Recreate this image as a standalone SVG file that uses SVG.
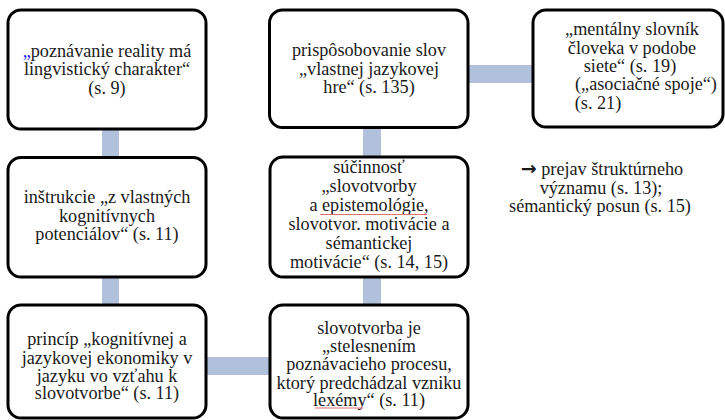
<svg xmlns="http://www.w3.org/2000/svg" width="725" height="420" viewBox="0 0 725 420">
<style>
.box{fill:#fff;stroke:#000;stroke-width:3}
text{font-family:'Liberation Serif',serif;font-size:18.2px;fill:#1a1a1a;text-anchor:middle}
.c{fill:#b1c1db}
.sq{fill:none;stroke:#e07070;stroke-width:1}
</style>
<rect width="725" height="420" fill="#fff"/>
<g id="connectors">
<rect class="c" x="102" y="128" width="17" height="31"/>
<rect class="c" x="102" y="275" width="17" height="32"/>
<rect class="c" x="363" y="126" width="18" height="33"/>
<rect class="c" x="363" y="275" width="18" height="32"/>
<rect class="c" x="205" y="357" width="67" height="18"/>
<rect class="c" x="466" y="65" width="69" height="18"/>
</g>
<g id="n1">
<rect class="box" x="8" y="10" width="198" height="119" rx="13"/>
<text font-family="Liberation Serif, serif"><tspan x="107" y="57"><tspan fill="#2020ff">„</tspan>poznávanie reality má</tspan><tspan x="107" y="75">lingvistický charakter“</tspan><tspan x="107" y="93.5">(s. 9)</tspan></text>
</g>
<g id="n2">
<rect class="box" x="8" y="157.5" width="198" height="119.5" rx="13"/>
<text font-family="Liberation Serif, serif"><tspan x="107" y="203">inštrukcie „z vlastných</tspan><tspan x="107" y="221.5">kognitívnych</tspan><tspan x="107" y="240">potenciálov“ (s. 11)</tspan></text>
</g>
<g id="n3">
<rect class="box" x="8" y="305" width="198" height="113" rx="13"/>
<text font-family="Liberation Serif, serif"><tspan x="107" y="345">princíp „kognitívnej a</tspan><tspan x="107" y="363.5">jazykovej ekonomiky v</tspan><tspan x="107" y="381.5">jazyku vo vzťahu k</tspan><tspan x="107" y="399">slovotvorbe“ (s. 11)</tspan></text>
</g>
<g id="n4">
<rect class="box" x="269.5" y="10" width="198.5" height="117.5" rx="13"/>
<text font-family="Liberation Serif, serif"><tspan x="369" y="56">prispôsobovanie slov</tspan><tspan x="369" y="74.5">„vlastnej jazykovej</tspan><tspan x="369" y="93">hre“ (s. 135)</tspan></text>
</g>
<g id="n5">
<rect class="box" x="270" y="157" width="198" height="120" rx="13"/>
<text font-family="Liberation Serif, serif"><tspan x="369" y="173">súčinnosť</tspan><tspan x="369" y="192">„slovotvorby</tspan><tspan x="369" y="211">a epistemológie,</tspan><tspan x="369" y="230">slovotvor. motivácie a</tspan><tspan x="369" y="248.5">sémantickej</tspan><tspan x="369" y="268">motivácie“  (s. 14, 15)</tspan></text>
<path class="sq" d="M320 214.5 L427 214.5"/>
</g>
<g id="n6">
<rect class="box" x="270" y="305" width="198" height="113" rx="13"/>
<text font-family="Liberation Serif, serif"><tspan x="369" y="333.5">slovotvorba je</tspan><tspan x="369" y="352">„stelesnením</tspan><tspan x="369" y="370">poznávacieho procesu,</tspan><tspan x="369" y="388.5">ktorý predchádzal vzniku</tspan><tspan x="369" y="406">lexémy“ (s. 11)</tspan></text>
<path class="sq" d="M315 408 L363 408"/>
</g>
<g id="n7">
<rect class="box" x="533" y="10" width="190" height="117" rx="13"/>
<text font-family="Liberation Serif, serif"><tspan x="632" y="35">„mentálny slovník</tspan><tspan x="632" y="53.5">človeka v podobe</tspan><tspan x="630" y="72">siete“ (s. 19)</tspan><tspan x="646" y="90">(„asociačné spoje“)</tspan><tspan x="598" y="108.5">(s. 21)</tspan></text>
</g>
<g id="note">
<text font-family="Liberation Serif, serif"><tspan x="602" y="175"><tspan font-family="DejaVu Sans" font-weight="bold" font-size="19">→</tspan> prejav štruktúrneho</tspan><tspan x="601" y="193.5">významu (s. 13);</tspan><tspan x="600" y="212">sémantický posun (s. 15)</tspan></text>
</g>
</svg>
